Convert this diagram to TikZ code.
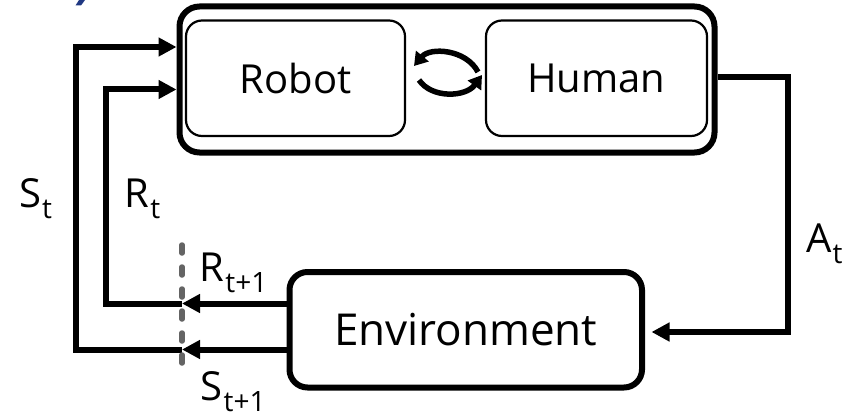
\documentclass[tikz,border=0pt]{standalone}
\usepackage{fontspec}
\setmainfont{Open Sans}
\usetikzlibrary{arrows.meta}

\definecolor{titleblue}{RGB}{32,56,130}
\definecolor{cutgray}{RGB}{100,100,100}

% variable with a lowered index, e.g. S_t
\newcommand{\subsz}{\fontsize{28}{28}\selectfont}
\newcommand{\varlabel}[2]{#1\kern1pt\raisebox{-11pt}{\subsz #2}}

\begin{document}
\begin{tikzpicture}[x=1pt,y=-1pt,
  flow/.style={line width=6pt, line join=miter},
  bigtip/.style={-{Triangle[length=18pt,width=18pt]}},
  swaptip/.style={-{Triangle[length=13pt,width=16pt]}},
  agent/.style={draw, rounded corners=16pt, line width=2.2pt, inner sep=0pt,
    minimum height=115.5pt, font=\fontsize{40}{40}\selectfont},
  envbox/.style={draw, rounded corners=18pt, line width=6pt, inner sep=0pt,
    minimum height=115.5pt, font=\fontsize{44}{44}\selectfont},
  lbl/.style={anchor=base west, inner sep=0pt, font=\fontsize{40}{40}\selectfont},
  cut/.style={draw=cutgray, line width=5.5pt, line cap=round,
    dash pattern=on 8pt off 14pt}
]
\useasboundingbox (0,0) rectangle (850,417);

% tail of the cut-off heading
\fill[titleblue] (79,0) -- (85,0) -- (81,5.5) -- (75.5,5.5) -- cycle;

% team box with robot and human
\node[draw, line width=6pt, rounded corners=20pt, minimum width=535pt,
  minimum height=146pt] (outer) at (447,79.5) {};
\node[agent, minimum width=219pt] (robot) at (295.5,78.25) {Robot};
\node[agent, minimum width=221pt] (human) at (596.5,78.25) {Human};

% environment
\node[envbox, minimum width=352.5pt] (env) at (465.75,329.75) {Environment};

% mutual adaptation arrows
\coordinate (swapTopR) at (478,72);
\coordinate (swapTopL) at (414,66);
\coordinate (swapBotL) at (419,80);
\coordinate (swapBotR) at (482,75);
\draw[line width=5.5pt, swaptip] (swapTopR) .. controls (466,49) and (430,47) .. (swapTopL);
\draw[line width=5.5pt, swaptip] (swapBotL) .. controls (432,99) and (466,97) .. (swapBotR);

% feedback paths
\coordinate (sCut) at (182,349.5);
\coordinate (rCut) at (182,303.5);
\coordinate (sCorner) at (75.5,349.5);
\coordinate (sTop) at (75.5,47);
\coordinate (rCorner) at (105.5,303.5);
\coordinate (rTop) at (105.5,89.5);
\coordinate (aTop) at (788,77);
\coordinate (aBot) at (788,332);

\draw[flow, bigtip] ([yshift=-19.75pt]env.west) -- (sCut);
\draw[flow, bigtip] ([yshift=26.25pt]env.west) -- (rCut);
\draw[flow, bigtip] (sCut) -- (sCorner) -- (sTop) -- (outer.west |- sTop);
\draw[flow, bigtip] (rCut) -- (rCorner) -- (rTop) -- (outer.west |- rTop);
\draw[flow, bigtip] (outer.east |- aTop) -- (aTop) -- (aBot)
  -- ([xshift=6.5pt]env.east |- aBot);

% time step boundary
\coordinate (cutTop) at (182,245);
\coordinate (cutBot) at (182,376);
\draw[cut] (cutTop) -- (cutBot);

% labels
\node[lbl] (st) at (19,207) {\varlabel{S}{t}};
\node[lbl] (rt) at (124.5,207) {\varlabel{R}{t}};
\node[lbl] (rt1) at (199.5,281.5) {\varlabel{R}{t+1}};
\node[lbl] (st1) at (200.5,400) {\varlabel{S}{t+1}};
\node[lbl] (at) at (806,252) {\varlabel{A}{t}};
\end{tikzpicture}
\end{document}
